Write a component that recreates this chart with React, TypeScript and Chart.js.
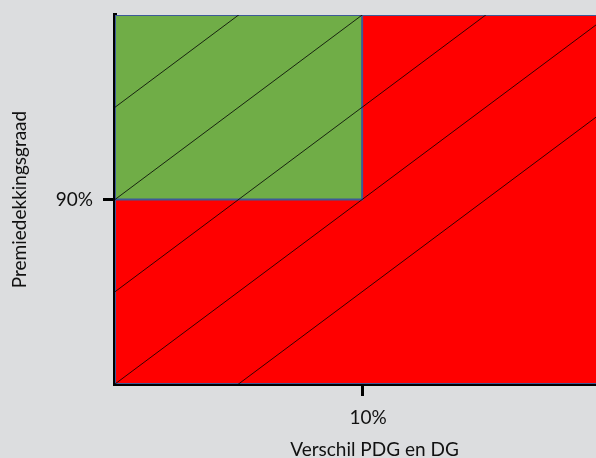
import { useEffect, useRef } from "react";
import { Chart, registerables } from "chart.js";

Chart.register(...registerables);

// Axis ranges (percent)
const xMin = 0;
const xMax = 21;
const yMin = 80;
const yMax = 100;

// Tick labels
const xTickValues = [10];
const yTickValues = [90];

// Red zone polygon (whole area)
const redX = [0, 0, 21, 21, 0];
const redY = [80, 100, 100, 80, 80];

// Green zone polygon
const greenX = [0, 0, 10, 10, 0];
const greenY = [90, 100, 100, 90, 90];

// Diagonal hatch lines: y = x + offset
const diagonalOffsets = [95, 90, 85, 80, 75];
const diagonalX = [0, 25];

const xTitle = "Verschil PDG en DG";
const yTitle = "Premiedekkingsgraad";

const FONT = "Lato, 'Open Sans', sans-serif";
const TEXT_COLOR = "#111111";
const BORDER_BLUE = "#3d5a98";

export default function App() {
  const canvasRef = useRef<HTMLCanvasElement | null>(null);

  useEffect(() => {
    if (!canvasRef.current) return;

    const poly = (xs: number[], ys: number[]) => xs.map((x, i) => ({ x, y: ys[i] }));

    const datasets: any[] = [
      {
        label: "red",
        data: poly(redX, redY),
        showLine: true,
        pointRadius: 0,
        borderColor: BORDER_BLUE,
        borderWidth: 2,
        backgroundColor: "#ff0000",
        fill: "shape",
        order: 3,
      },
      {
        label: "green",
        data: poly(greenX, greenY),
        showLine: true,
        pointRadius: 0,
        borderColor: BORDER_BLUE,
        borderWidth: 2,
        backgroundColor: "#70ad47",
        fill: "shape",
        order: 2,
      },
      ...diagonalOffsets.map((c) => ({
        label: "diag" + c,
        data: diagonalX.map((x) => ({ x, y: x + c })),
        showLine: true,
        pointRadius: 0,
        borderColor: "#000000",
        borderWidth: 0.8,
        fill: false,
        order: 1,
      })),
    ];

    const chart = new Chart(canvasRef.current, {
      type: "scatter",
      data: { datasets },
      options: {
        animation: false,
        responsive: true,
        maintainAspectRatio: false,
        events: [],
        layout: { padding: { top: 15, right: 0, left: 0, bottom: 0 } },
        plugins: {
          legend: { display: false },
          tooltip: { enabled: false },
        },
        scales: {
          x: {
            type: "linear",
            min: xMin,
            max: xMax,
            z: 1,
            afterBuildTicks: (s: any) => {
              s.ticks = xTickValues.map((v) => ({ value: v }));
            },
            afterFit: (s: any) => {
              s.height = 74;
              s.paddingLeft = 0;
              s.paddingRight = 0;
            },
            ticks: {
              callback: (v: any) => v + "%",
              font: { family: FONT, size: 19 },
              color: TEXT_COLOR,
              padding: 10,
              labelOffset: 6,
              maxRotation: 0,
            },
            grid: {
              drawOnChartArea: false,
              drawTicks: true,
              tickLength: 12,
              tickWidth: 3,
              tickColor: "#000000",
            },
            border: { display: true, color: "#000000", width: 4 },
            title: {
              display: true,
              text: xTitle,
              font: { family: FONT, size: 19, lineHeight: 0.9 },
              color: TEXT_COLOR,
              padding: { top: 0, bottom: 0 },
            },
          },
          y: {
            type: "linear",
            min: yMin,
            max: yMax,
            z: 1,
            afterBuildTicks: (s: any) => {
              s.ticks = yTickValues.map((v) => ({ value: v }));
            },
            afterFit: (s: any) => {
              s.width = 115;
              s.paddingTop = 0;
              s.paddingBottom = 0;
            },
            ticks: {
              callback: (v: any) => v + "%",
              font: { family: FONT, size: 19 },
              color: TEXT_COLOR,
              padding: 10,
            },
            grid: {
              drawOnChartArea: false,
              drawTicks: true,
              tickLength: 12,
              tickWidth: 3,
              tickColor: "#000000",
            },
            border: { display: true, color: "#000000", width: 4 },
            title: {
              display: true,
              text: yTitle,
              font: { family: FONT, size: 19, lineHeight: 1 },
              color: TEXT_COLOR,
              padding: { top: 10, bottom: 0 },
            },
          },
        },
      } as any,
    });

    return () => {
      chart.destroy();
    };
  }, []);

  return (
    <div
      style={{
        position: "fixed",
        left: 0,
        top: 0,
        width: 596,
        height: 458,
        overflow: "hidden",
        background: "#dcdddf",
      }}
    >
      <div style={{ position: "absolute", left: 0, top: 0, width: 634, height: 458 }}>
        <canvas ref={canvasRef} />
      </div>
    </div>
  );
}
